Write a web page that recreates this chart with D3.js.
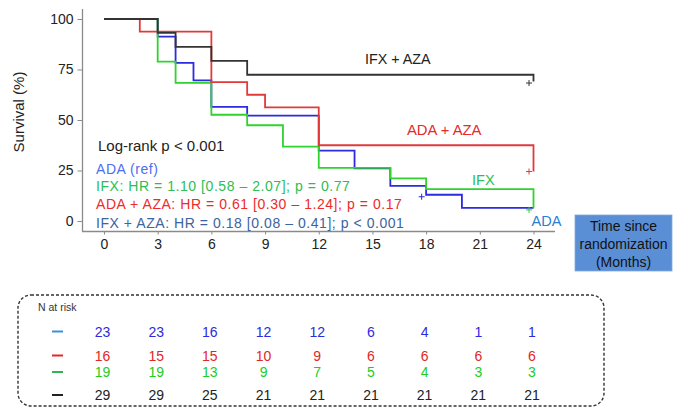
<!DOCTYPE html>
<html><head><meta charset="utf-8">
<script src="https://cdn.jsdelivr.net/npm/d3@7"></script>
<style>body{margin:0;background:#fff}svg{display:block;font-family:"Liberation Sans",Arial,sans-serif}</style>
</head><body>
<svg id="c" width="684" height="408"></svg>
<script>
// ---- data ----
const months = [0,3,6,9,12,15,18,21,24];
const yTicks = [0,25,50,75,100];
const adaT = [0,3,4,5,6,8,12,14,16,18,20,24];
const adaS = [100,91.3,78.3,69.6,56.5,52.2,34.8,26.1,17.4,13.0,6.5,6.5];
const ifxT = [0,3,4,6,8,10,12,16,18,24];
const ifxS = [100,78.9,68.4,52.6,47.4,36.8,26.3,21.1,15.8,6.3];
const adaAzaT = [0,2,6,8,9,12,24];
const adaAzaS = [100,93.75,68.75,62.5,56.25,37.5,24.5];
const ifxAzaT = [0,3,4,6,8,24];
const ifxAzaS = [100,93.1,86.2,79.3,72.4,69.0];
const censorT = [17.75, 23.75, 23.75, 23.75];
const censorS = [12.0, 24.5, 5.5, 68.3];
const censorSeries = ["ada","adaAza","ifx","ifxAza"];
const riskAda = [23,23,16,12,12,6,4,1,1];
const riskAdaAza = [16,15,15,10,9,6,6,6,6];
const riskIfx = [19,19,13,9,7,5,4,3,3];
const riskIfxAza = [29,29,25,21,21,21,21,21,21];

const col = {ada:"#2b2be0", ifx:"#2fd22f", adaAza:"#e03a3a", ifxAza:"#333333"};

const svg = d3.select("#c");
const x = d3.scaleLinear().domain([0,24]).range([104,533.5]);
const y = d3.scaleLinear().domain([0,100]).range([221,19]);

// axes
const axisCol = "#8a8a8a";
svg.append("line").attr("x1",82.5).attr("x2",82.5).attr("y1",9).attr("y2",231.5).attr("stroke",axisCol).attr("stroke-width",1.3);
svg.append("line").attr("x1",82).attr("x2",555).attr("y1",231.5).attr("y2",231.5).attr("stroke",axisCol).attr("stroke-width",1.3);

const ya = svg.append("g").attr("transform","translate(82.5,0)")
  .call(d3.axisLeft(y).tickValues(yTicks).tickSize(5).tickPadding(4));
ya.select(".domain").remove();
ya.selectAll("line").attr("stroke",axisCol);
ya.selectAll("text").attr("font-size",14).attr("fill","#222").attr("font-family","Liberation Sans, Arial");

const xa = svg.append("g").attr("transform","translate(0,231.5)")
  .call(d3.axisBottom(x).tickValues(months).tickSize(3).tickPadding(5));
xa.select(".domain").remove();
xa.selectAll("line").attr("stroke",axisCol);
xa.selectAll("text").attr("font-size",14).attr("fill","#222").attr("font-family","Liberation Sans, Arial");

svg.append("text").attr("transform","translate(24,112) rotate(-90)").attr("text-anchor","middle")
  .attr("font-size",15).attr("fill","#222").text("Survival (%)");

// curves
const line = d3.line().x(d=>x(d[0])).y(d=>y(d[1])).curve(d3.curveStepAfter);
function curve(T,S,c){
  const pts = T.map((t,i)=>[t,S[i]]);
  svg.append("path").attr("d",line(pts)).attr("fill","none").attr("stroke",c).attr("stroke-width",1.8);
}
curve(adaT,adaS,col.ada);
curve(ifxT,ifxS,col.ifx);
curve(adaAzaT,adaAzaS,col.adaAza);
curve(ifxAzaT,ifxAzaS,col.ifxAza);

// censor marks
censorT.forEach((t,i)=>{
  const cx=x(t), cy=y(censorS[i]), c=col[censorSeries[i]];
  svg.append("path").attr("d",`M${cx-3},${cy}H${cx+3}M${cx},${cy-3}V${cy+3}`).attr("stroke",c).attr("stroke-width",1);
});

// curve labels
function txt(tx,ty,s,c,size,anchor,ls){
  const t = svg.append("text").attr("x",tx).attr("y",ty).attr("fill",c).attr("font-size",size||14)
    .attr("text-anchor",anchor||"start").attr("dominant-baseline","central").text(s);
  if (ls) t.attr("letter-spacing",ls);
  return t;
}
txt(365,58.5,"IFX + AZA","#222",14.3);
txt(407,130,"ADA + AZA","#e52a2a",14.8);
txt(472,179.5,"IFX","#2dbd55",14.5);
txt(531.5,221,"ADA","#2a80d4",14.5);

txt(98,145.5,"Log-rank p < 0.001","#222",15);
txt(96,169,"ADA (ref)","#4d6ef5",14,null,0.55);
txt(96,185.5,"IFX: HR = 1.10 [0.58 \u2013 2.07]; p = 0.77","#2dbd55",14,null,0.55);
txt(96,204,"ADA + AZA: HR = 0.61 [0.30 \u2013 1.24]; p = 0.17","#ee2a2a",14,null,0.55);
txt(96,222.5,"IFX + AZA: HR = 0.18 [0.08 \u2013 0.41]; p < 0.001","#3b64a0",14,null,0.55);

// time box
svg.append("rect").attr("x",575).attr("y",215).attr("width",97).attr("height",56).attr("fill","#5a8fd6").attr("stroke","#7ea8e0").attr("stroke-width",0.8);
txt(623.5,226,"Time  since","#111",14,"middle");
txt(623.5,243.5,"randomization","#111",14,"middle");
txt(623.5,261.5,"(Months)","#111",14,"middle");

// risk table
svg.append("rect").attr("x",18).attr("y",295).attr("width",586).attr("height",111).attr("rx",13)
  .attr("fill","none").attr("stroke","#333").attr("stroke-width",1.4).attr("stroke-dasharray","3,2");
txt(38,307,"N at risk","#333",10.5);
const rows = [[riskAda,"#2b2be0","#3d8fd8",331.5],[riskAdaAza,"#e02828","#e02828",355.5],[riskIfx,"#22cc22","#2fb45a",372],[riskIfxAza,"#222","#222",395]];
rows.forEach(([vals,c,dc,ry])=>{
  svg.append("line").attr("x1",52).attr("x2",63).attr("y1",ry).attr("y2",ry).attr("stroke",dc).attr("stroke-width",2);
  vals.forEach((v,i)=>txt(x(months[i])-1.5,ry,String(v),c,14,"middle"));
});
</script>
</body></html>
